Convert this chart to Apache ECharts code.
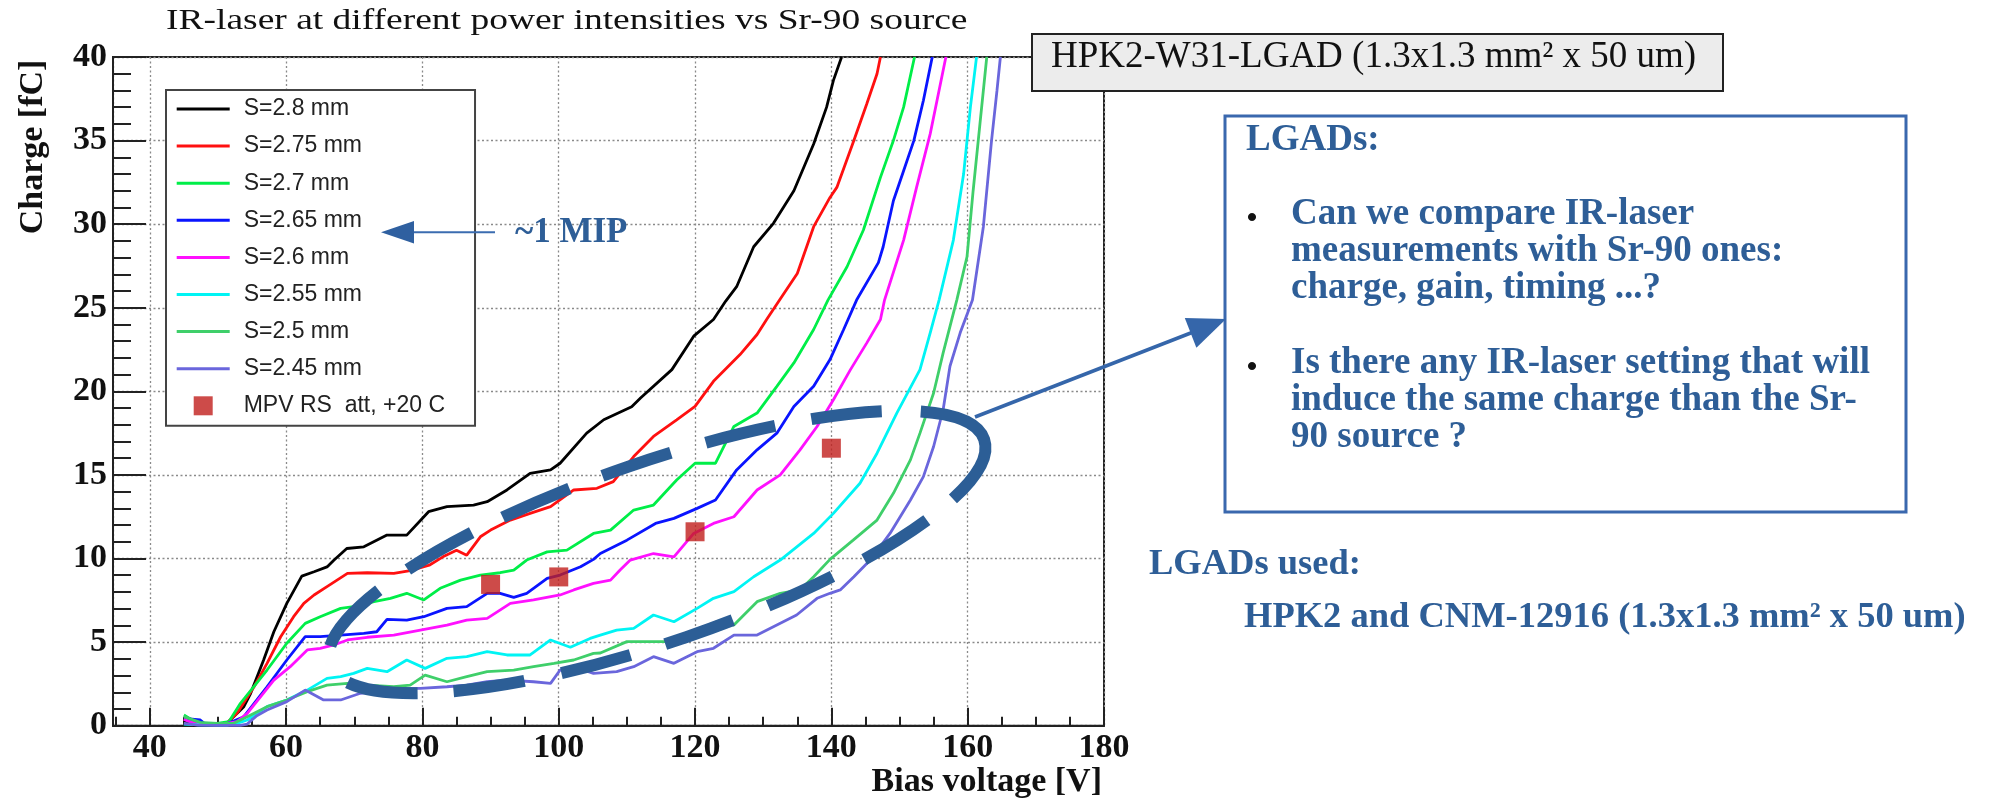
<!DOCTYPE html>
<html>
<head>
<meta charset="utf-8">
<script src="https://cdn.jsdelivr.net/npm/echarts@6/dist/echarts.min.js"></script>
<style>
  html, body { margin: 0; padding: 0; background: #ffffff; }
  #chart { width: 2002px; height: 803px; }
</style>
</head>
<body>
<div id="chart"></div>
<script>
// Collected charge [fC] versus bias voltage [V] for several IR-laser settings (S = filter position)
const s280 = [[45,0.3],[46.5,0.05],[49,0.02],[51.3,0.14],[52.3,0.54],[53.8,1.14],[54.8,1.94],[56.7,3.93],[58.2,5.62],[60.1,7.32],[62.3,8.95],[64.1,9.21],[66,9.5],[67,9.9],[68.9,10.6],[71.4,10.7],[74.8,11.4],[77.7,11.4],[80.9,12.8],[83.6,13.1],[87.5,13.2],[89.5,13.4],[92.4,14.1],[95.8,15.1],[98.8,15.3],[100.2,15.7],[104.1,17.5],[106.6,18.3],[110.7,19.08],[112,19.6],[116.6,21.3],[119.8,23.3],[122.7,24.3],[124.5,25.4],[126.1,26.26],[128.6,28.65],[131.5,30.05],[134.5,32.0],[137.4,34.8],[139.3,37.0],[140.3,38.6],[141.5,40]];
const s275 = [[45,0.4],[47,0.1],[49.5,0.05],[51.3,0.14],[52.8,0.74],[55.3,2.33],[57.2,3.73],[59.2,5.32],[61.1,6.52],[62.6,7.32],[64.1,7.82],[66,8.32],[69,9.11],[71.9,9.15],[75.8,9.11],[78.2,9.27],[81,9.6],[83,10.1],[85,10.5],[86.5,10.2],[88.5,11.3],[90,11.7],[92.9,12.3],[95.8,12.7],[98.8,13.1],[102.2,14.1],[105.6,14.2],[108,14.6],[111,16.1],[113.9,17.3],[117.3,18.3],[120,19.1],[122.7,20.6],[126.6,22.2],[129.1,23.4],[130.5,24.3],[132.4,25.46],[135,27.05],[137.4,29.85],[139.8,31.6],[140.8,32.2],[143.3,35.0],[145.2,37.2],[146.7,39.0],[147.2,40]];
const s270 = [[45,0.64],[46.2,0.34],[47.9,0.14],[49.9,0.14],[51.6,0.24],[53.3,1.34],[57.2,3.33],[60.1,4.93],[62.8,6.12],[65,6.52],[68,7.02],[69.9,7.12],[72.9,7.42],[75.3,7.62],[77.7,7.92],[80.2,7.52],[82.6,8.22],[85.6,8.71],[88.5,9.01],[91.4,9.15],[93.4,9.31],[95.3,9.91],[98.3,10.4],[101.2,10.5],[105.1,11.5],[107.6,11.7],[111,12.9],[113.9,13.2],[117.3,14.7],[120,15.7],[123,15.7],[125.7,17.9],[129.1,18.7],[132,20.3],[134.5,21.7],[137.4,23.7],[139.5,25.46],[142.3,27.45],[144.7,29.65],[147.2,32.8],[149.1,35.0],[150.6,37.0],[152.2,40]];
const s265 = [[45,0.44],[47.4,0.34],[48,0.14],[49.9,0.08],[51.5,0.14],[53.8,0.54],[57.2,2.33],[60.1,3.93],[62.8,5.33],[65,5.33],[68,5.42],[71.4,5.52],[73.3,5.62],[74.8,6.36],[77.7,6.32],[80.2,6.52],[83.6,7.02],[86.5,7.12],[89.5,7.92],[91.4,7.92],[93.4,7.68],[95.3,7.92],[98.3,8.81],[100.2,9.01],[103.2,9.51],[105.1,9.95],[106.1,10.3],[110,11.1],[114.2,12.1],[116.9,12.4],[120.3,13.0],[123,13.5],[126.1,15.3],[129.1,16.5],[132,17.5],[134.5,19.1],[137.4,20.3],[139.8,21.9],[141.8,23.7],[143.7,25.46],[146.9,27.7],[147.6,28.65],[149.1,31.4],[150.6,33.2],[152.1,35.0],[153.5,37.4],[154.8,40]];
const s260 = [[45,0.38],[46.5,0.14],[48.4,0.1],[51.3,0.14],[52.8,0.24],[54.3,0.74],[58.2,2.73],[60.6,3.53],[63.1,4.53],[65,4.63],[67,4.83],[69,5.13],[71.9,5.29],[75.8,5.42],[79.7,5.72],[83.6,6.02],[86.5,6.32],[89.5,6.42],[92.9,7.32],[96.3,7.52],[100.2,7.82],[102.2,8.12],[105.1,8.51],[107.6,8.71],[109,9.31],[110.5,9.91],[113.9,10.3],[116.9,10.1],[119.8,11.5],[122.7,12.1],[125.7,12.5],[129.1,14.1],[132.5,15.0],[135.4,16.5],[137.9,17.9],[140.3,19.5],[142.8,21.3],[145.2,22.9],[147.2,24.3],[147.8,25.46],[150.6,29.05],[152.5,32.2],[154.5,35.4],[155.5,37.4],[156.8,40]];
const s255 = [[45,0.1],[47.4,0.05],[51.3,0.04],[52.8,0.14],[54.3,0.34],[57.2,1.14],[60.1,1.54],[63.1,2.13],[66,2.83],[68,2.93],[69.9,3.13],[71.9,3.43],[74.8,3.23],[77.7,3.93],[80.4,3.43],[83.6,4.03],[86.5,4.13],[89.5,4.43],[92.4,4.23],[95.8,4.23],[98.8,5.13],[101.7,4.69],[104.6,5.22],[106.1,5.42],[108.5,5.72],[111,5.82],[113.9,6.62],[116.9,6.22],[120.3,7.02],[122.7,7.62],[125.7,8.02],[128.6,8.91],[132.5,9.91],[137.4,11.5],[140.3,12.7],[144.2,14.5],[146.7,16.3],[149.6,18.7],[153,21.3],[154.5,23.5],[155.8,25.46],[157.9,29.05],[159.4,33.0],[160.4,37.0],[161.3,40]];
const s250 = [[45,0.54],[47.4,0.2],[49.9,0.14],[52.3,0.14],[54.3,0.54],[57.2,1.14],[60.1,1.54],[63.1,2.04],[66,2.43],[69,2.53],[71.9,2.43],[75.8,2.33],[78.2,2.43],[80.4,3.03],[83.6,2.63],[86.5,2.93],[89.5,3.23],[93.4,3.33],[96.3,3.53],[99.3,3.73],[102.2,3.93],[105.1,4.33],[106.1,4.35],[110,5.03],[114.4,5.03],[117.3,5.03],[120.3,5.32],[123.2,6.22],[125.7,6.02],[129.1,7.42],[132.5,7.92],[135.4,8.12],[137.4,8.91],[139.8,9.95],[143.2,11.1],[146.7,12.3],[149.1,13.9],[151.6,15.9],[153,17.5],[155,19.9],[156.4,22.3],[158.4,25.46],[159.9,28.05],[160.8,32.0],[161.8,36.0],[162.8,40]];
const s245 = [[45,0.14],[47,0.04],[49.4,0.02],[53.3,0.02],[54.3,0.1],[55.7,0.6],[57.2,0.94],[60.1,1.44],[62.8,2.13],[65.5,1.54],[68,1.54],[70.9,1.94],[73.3,2.04],[76.8,2.23],[79.7,2.23],[83.6,2.33],[86.5,2.43],[89.5,2.63],[92.4,2.73],[96.3,2.63],[98.8,2.53],[100.2,3.33],[102.2,3.53],[105.1,3.13],[108.5,3.23],[111,3.53],[113.9,4.13],[116.9,3.73],[120.3,4.43],[122.7,4.63],[125.7,5.42],[129.1,5.42],[132,6.02],[134.9,6.62],[137.9,7.62],[139.8,7.92],[141.3,8.12],[143.3,8.91],[145.7,9.91],[148.6,11.5],[151.6,13.5],[153.5,14.9],[155,16.7],[156.4,18.9],[157.4,21.5],[158.9,23.5],[160.7,25.46],[162.3,29.85],[163.5,35.0],[164.3,38.0],[164.8,40]];

// Sr-90 most probable values
const mpvVoltage = [90, 100, 120, 140];
const mpvCharge = [8.45, 8.9, 11.6, 16.6];

const curveNames = ['S=2.8 mm', 'S=2.75 mm', 'S=2.7 mm', 'S=2.65 mm', 'S=2.6 mm', 'S=2.55 mm', 'S=2.5 mm', 'S=2.45 mm'];
const mpvName = 'MPV RS  att, +20 C';
const curveColors = ['#000000', '#ff1010', '#00ee48', '#0a14ff', '#ff10ff', '#00f4f4', '#3fcf6a', '#6a66dc'];
const curves = [s280, s275, s270, s265, s260, s255, s250, s245];

const xTitle = 'Bias voltage [V]';
const yTitle = 'Charge [fC]';
const plotTitle = 'IR-laser at different power intensities vs Sr-90 source';
const deviceLabel = 'HPK2-W31-LGAD (1.3x1.3 mm\u00b2 x 50 um)';
const questionHead = 'LGADs:';
const questionOne = ['Can we compare IR-laser', 'measurements with Sr-90 ones:', 'charge, gain, timing ...?'];
const questionTwo = ['Is there any IR-laser setting that will', 'induce the same charge than the Sr-', '90 source ?'];
const usedHead = 'LGADs used:';
const usedLine = 'HPK2 and CNM-12916 (1.3x1.3 mm\u00b2 x 50 um)';
const mipLabel = '~1 MIP';

const SERIF = '"Liberation Serif", "Times New Roman", serif';
const SANS = '"Liberation Sans", Arial, sans-serif';
const BLUE = '#2e5e97';
const lineIcon = 'path://M0,0 L53,0 L53,3 L0,3 Z';
const squareIcon = 'path://M0,0 L19,0 L19,19 L0,19 Z';

const chart = echarts.init(document.getElementById('chart'), null, { renderer: 'canvas' });

const series = curves.map((d, i) => ({
  type: 'line',
  name: curveNames[i],
  data: d,
  symbol: 'none',
  showSymbol: false,
  lineStyle: { width: 2.8, color: curveColors[i] },
  itemStyle: { color: curveColors[i] },
  z: 2 + i,
  animation: false
}));
series.push({
  type: 'scatter',
  name: mpvName,
  data: mpvVoltage.map((v, i) => [v, mpvCharge[i]]),
  symbol: 'rect',
  symbolSize: 19,
  symbolKeepAspect: true,
  itemStyle: { color: '#c01e1c' },
  z: 20,
  animation: false
});

function txt(x, y, text, font, fill, align, extra) {
  return Object.assign({
    type: 'text', x: x, y: y, z: 100,
    style: { text: text, font: font, fill: fill, align: align || 'left', verticalAlign: 'middle',
             textAlign: align || 'left', textVerticalAlign: 'middle' }
  }, extra || {});
}

const boxFont = 'bold 37px ' + SERIF;
const usedFont = 'bold 36.5px ' + SERIF;
const graphics = [
  // plot title and axis titles
  txt(166, 21.5, plotTitle, '30px ' + SERIF, '#111', 'left', { scaleX: 1.25 }),
  txt(1102, 782, xTitle, 'bold 34px ' + SERIF, '#111', 'right'),
  txt(33.5, 147, yTitle, 'bold 34px ' + SERIF, '#111', 'center', { rotation: Math.PI / 2 }),
  // device label box
  { type: 'rect', z: 90, shape: { x: 1032, y: 34, width: 691, height: 57 },
    style: { fill: '#ececec', stroke: '#222', lineWidth: 2 } },
  txt(1051, 57, deviceLabel, '37px ' + SERIF, '#111', 'left'),
  // questions box
  { type: 'rect', z: 90, shape: { x: 1225, y: 116, width: 681, height: 396 },
    style: { fill: '#ffffff', stroke: '#3a68ae', lineWidth: 3 } },
  txt(1246, 140, questionHead, boxFont, BLUE),
  txt(1252, 219, '\u2022', 'bold 30px ' + SERIF, '#111', 'center'),
  txt(1252, 368, '\u2022', 'bold 30px ' + SERIF, '#111', 'center'),
  txt(1291, 214.7, questionOne[0], boxFont, BLUE),
  txt(1291, 251.3, questionOne[1], boxFont, BLUE),
  txt(1291, 288, questionOne[2], boxFont, BLUE),
  txt(1291, 363, questionTwo[0], boxFont, BLUE),
  txt(1291, 400.7, questionTwo[1], boxFont, BLUE),
  txt(1291, 437.3, questionTwo[2], boxFont, BLUE),
  txt(1149, 565, usedHead, usedFont, BLUE),
  txt(1244, 618, usedLine, usedFont, BLUE),
  // ~1 MIP pointer
  { type: 'line', z: 95, shape: { x1: 495, y1: 232.3, x2: 410, y2: 232.3 },
    style: { stroke: '#3b6cb0', lineWidth: 2 } },
  { type: 'polygon', z: 95, shape: { points: [[381, 232.3], [414, 221], [414, 243.6]] },
    style: { fill: '#2f60a0' } },
  txt(515, 233, mipLabel, 'bold 35px ' + SERIF, BLUE),
  // dashed ellipse around the region of interest
  { type: 'ellipse', z: 95, x: 657, y: 552, rotation: 19 * Math.PI / 180,
    shape: { cx: 0, cy: 0, rx: 346, ry: 90 },
    style: { fill: 'none', stroke: '#2c5e96', lineWidth: 12,
      lineDash: [0, 19, 75, 35.5, 73.8, 34.5, 72.8, 35.3, 72, 36.4, 71.3, 36.9, 70.7, 39, 144, 33.4,
                 74, 36, 70.8, 38.1, 71.5, 36.4, 71.5, 37.7, 71.6, 36, 71.4, 300] } },
  // arrow from the ellipse to the questions box
  { type: 'line', z: 95, shape: { x1: 975, y1: 417, x2: 1192, y2: 332.5 },
    style: { stroke: '#3566aa', lineWidth: 3.5 } },
  { type: 'polygon', z: 95, shape: { points: [[1226, 319], [1196.4, 347.7], [1184.8, 317.9]] },
    style: { fill: '#3566aa' } }
];

chart.setOption({
  animation: false,
  backgroundColor: '#ffffff',
  grid: { left: 113, right: 898, top: 57, bottom: 77.3, show: true,
          borderColor: '#222', borderWidth: 2, backgroundColor: 'transparent' },
  legend: {
    orient: 'vertical', left: 166, top: 90,
    itemWidth: 53, itemHeight: 19, itemGap: 14.1,
    padding: [7.5, 30, 8.5, 10.7],
    borderColor: '#444', borderWidth: 2, backgroundColor: '#ffffff',
    symbolKeepAspect: true,
    selectedMode: false,
    textStyle: { fontFamily: SANS, fontSize: 23, color: '#222', padding: [0, 0, 0, 9] },
    data: curveNames.map(n => ({ name: n, icon: lineIcon })).concat([{ name: mpvName, icon: squareIcon }])
  },
  xAxis: {
    type: 'value', min: 34.6, max: 180, minInterval: 20, maxInterval: 20, splitNumber: 7,
    axisLine: { show: true, onZero: false, lineStyle: { color: '#222', width: 2 } },
    axisTick: { show: true, inside: true, length: 18, lineStyle: { color: '#222', width: 2 } },
    minorTick: { show: true, splitNumber: 4, length: 9, lineStyle: { color: '#222', width: 2 } },
    splitLine: { show: true, lineStyle: { color: '#8a8a8a', width: 1.3, type: [2, 2.5] } },
    axisLabel: { showMinLabel: false, fontFamily: SERIF, fontWeight: 'bold', fontSize: 34, color: '#111', margin: 6 }
  },
  yAxis: {
    type: 'value', min: 0, max: 40, interval: 5,
    axisLine: { show: true, onZero: false, lineStyle: { color: '#222', width: 2 } },
    axisTick: { show: true, inside: true, length: 33, lineStyle: { color: '#222', width: 2 } },
    minorTick: { show: true, splitNumber: 5, length: 18, lineStyle: { color: '#222', width: 2 } },
    splitLine: { show: true, lineStyle: { color: '#8a8a8a', width: 1.3, type: [2, 2.5] } },
    axisLabel: { fontFamily: SERIF, fontWeight: 'bold', fontSize: 34, color: '#111', margin: 6 }
  },
  series: series,
  graphic: { elements: graphics }
});
</script>
</body>
</html>
